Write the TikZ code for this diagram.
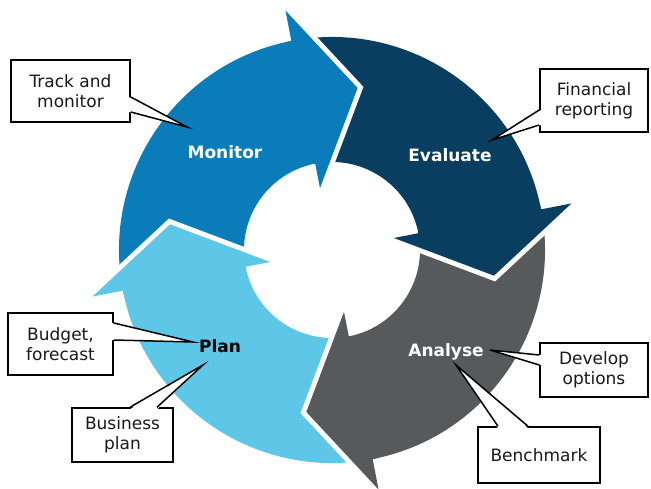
\documentclass[tikz,border=0pt]{standalone}
\usepackage{fontspec}
\setmainfont{DejaVu Sans}
\usetikzlibrary{calc}
\definecolor{cmon}{HTML}{0A7CB9}
\definecolor{ceva}{HTML}{0A3E60}
\definecolor{cana}{HTML}{58595B}
\definecolor{cpla}{HTML}{5EC6E6}
\begin{document}
\begin{tikzpicture}[x=1pt,y=1pt,
  callout/.style={draw=black, line width=1.5pt, fill=white, align=center, inner sep=0pt,
    font=\fontsize{17}{20}\selectfont, text=black!90},
  wedge/.style={draw=black, line width=1.5pt, line join=miter},
  lbl/.style={font=\bfseries\fontsize{17}{20}\selectfont, inner sep=1pt}]
\useasboundingbox (-332,-239) rectangle (319,250);

% arrow bodies
\foreach \a/\c in {101/cmon, 11/ceva, -79/cana, 191/cpla}{
  \pgfmathsetmacro\b{\a+90}
  \fill[\c] (\b:213) arc[start angle=\b, end angle=\a, radius=213]
    -- (\a:88) arc[start angle=\a, end angle=\b, radius=88] -- cycle;
}
% white gaps around the heads
\foreach \a in {101, 11, -79, 191}{
  \pgfmathsetmacro\t{\a-20}
  \draw[white, line width=10pt, line join=miter] (\a:244) -- (\t:164) -- (\a:63);
}
% arrow heads (reaching a little back into their own body to hide seams)
\foreach \a/\c in {101/cmon, 11/ceva, -79/cana, 191/cpla}{
  \pgfmathsetmacro\t{\a-20}
  \pgfmathsetmacro\k{\a+1.2}
  \fill[\c] (\a:244) -- (\t:164) -- (\a:63) -- (\a:88) -- (\k:88) -- (\k:213) -- (\a:213) -- cycle;
}

% labels
\node[lbl, text=white] (mon) at (-107,98) {Monitor};
\node[lbl, text=white] (eva) at (118,95) {Evaluate};
\node[lbl, text=white] (ana) at (114,-102) {Analyse};
\node[lbl, text=black] (pla) at (-112,-96) {Plan};

% callout boxes
\node[callout, minimum width=119pt, minimum height=62pt] (track) at (-261.5,159) {Track and\\monitor};
\node[callout, minimum width=108pt, minimum height=63pt] (fin) at (262,149.5) {Financial\\reporting};
\node[callout, minimum width=105pt, minimum height=62pt] (bud) at (-271.5,-94) {Budget,\\forecast};
\node[callout, minimum width=101pt, minimum height=54pt] (bus) at (-209.5,-185) {Business\\plan};
\node[callout, minimum width=108pt, minimum height=54pt] (dev) at (262,-120) {Develop\\options};
\node[callout, minimum width=122pt, minimum height=56pt] (ben) at (207,-205) {Benchmark};

% callout tips
\coordinate (ttrack) at (-145,123);
\coordinate (tfin) at (160,110);
\coordinate (tbud) at (-139,-92);
\coordinate (tbus) at (-129,-115);
\coordinate (tdev) at (158,-100);
\coordinate (tben) at (124,-115);

% Track and monitor wedge (right side)
\fill[white] ([xshift=-2pt,yshift=-6pt]track.east) -- (ttrack) -- ([xshift=-2pt,yshift=-21pt]track.east) -- cycle;
\draw[wedge] ([yshift=-6pt]track.east) -- (ttrack) -- ([yshift=-21pt]track.east);
% Financial reporting wedge (left side)
\fill[white] ([xshift=2pt,yshift=-9.5pt]fin.west) -- (tfin) -- ([xshift=2pt,yshift=-24.5pt]fin.west) -- cycle;
\draw[wedge] ([yshift=-9.5pt]fin.west) -- (tfin) -- ([yshift=-24.5pt]fin.west);
% Budget wedge (right side)
\fill[white] ([xshift=-2pt,yshift=21pt]bud.east) -- (tbud) -- ([xshift=-2pt,yshift=4pt]bud.east) -- cycle;
\draw[wedge] ([yshift=21pt]bud.east) -- (tbud) -- ([yshift=4pt]bud.east);
% Business plan wedge (top side)
\fill[white] ([xshift=7.5pt,yshift=-2pt]bus.north) -- (tbus) -- ([xshift=34.5pt,yshift=-2pt]bus.north) -- cycle;
\draw[wedge] ([xshift=7.5pt]bus.north) -- (tbus) -- ([xshift=34.5pt]bus.north);
% Develop options wedge (left side)
\fill[white] ([xshift=2pt,yshift=15pt]dev.west) -- (tdev) -- ([xshift=2pt,yshift=5pt]dev.west) -- cycle;
\draw[wedge] ([yshift=15pt]dev.west) -- (tdev) -- ([yshift=5pt]dev.west);
% Benchmark wedge (top side)
\fill[white] ([xshift=-41pt,yshift=-2pt]ben.north) -- (tben) -- ([xshift=-11pt,yshift=-2pt]ben.north) -- cycle;
\draw[wedge] ([xshift=-41pt]ben.north) -- (tben) -- ([xshift=-11pt]ben.north);
\end{tikzpicture}
\end{document}
